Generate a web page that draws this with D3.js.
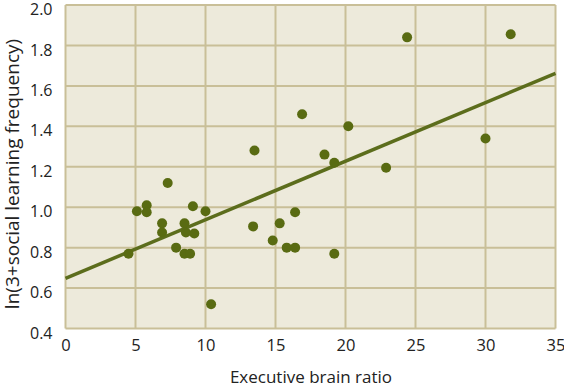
<!DOCTYPE html>
<html><head><meta charset="utf-8">
<script src="https://cdn.jsdelivr.net/npm/d3@7"></script>
<style>body{margin:0;background:#fff;} text{font-family:"Open Sans",sans-serif;fill:#222;}</style>
</head><body>
<svg id="c" width="564" height="388"></svg>
<script>
const brainRatio = [4.5,5.1,5.8,5.8,7.3,6.9,6.9,7.9,8.5,8.6,8.5,8.9,9.1,9.2,10.0,10.4,13.4,13.5,14.8,15.3,15.8,16.4,16.4,16.9,20.2,18.5,19.2,19.2,22.9,24.4,31.8,30.0];
const socialFreq = [0.77,0.98,1.01,0.975,1.12,0.92,0.875,0.80,0.92,0.875,0.77,0.77,1.005,0.87,0.98,0.52,0.905,1.28,0.835,0.92,0.80,0.80,0.975,1.46,1.40,1.26,1.22,0.77,1.195,1.84,1.855,1.34];
const fitLine = [[0,0.648],[35,1.662]];
const xTicks = [0,5,10,15,20,25,30,35];
const yTicks = [0.4,0.6,0.8,1.0,1.2,1.4,1.6,1.8,2.0];

const svg = d3.select("#c");
const L=65.5,R=555.5,T=5,B=328.5;
const x = d3.scaleLinear().domain([0,35]).range([L,R]);
const y = d3.scaleLinear().domain([0.4,2.0]).range([B,T]);

svg.append("rect").attr("x",L).attr("y",T).attr("width",R-L).attr("height",B-T).attr("fill","#edeadb");
const grid="#c9bf98";
svg.append("g").selectAll("line").data(xTicks).join("line")
  .attr("x1",d=>x(d)).attr("x2",d=>x(d)).attr("y1",T).attr("y2",B).attr("stroke",grid).attr("stroke-width",2);
svg.append("g").selectAll("line").data(yTicks).join("line")
  .attr("y1",d=>y(d)).attr("y2",d=>y(d)).attr("x1",L).attr("x2",R).attr("stroke",grid).attr("stroke-width",2);

const xAxis = svg.append("g").attr("transform",`translate(0,${B})`)
  .call(d3.axisBottom(x).tickValues(xTicks).tickSize(0).tickPadding(11).tickFormat(d3.format("d")));
xAxis.select(".domain").remove();
xAxis.selectAll("text").attr("font-size",16.5).style("font-family","'Open Sans',sans-serif").attr("fill","#222");
const yAxis = svg.append("g").attr("transform",`translate(${L},0)`)
  .call(d3.axisLeft(y).tickValues(yTicks).tickSize(0).tickPadding(13).tickFormat(d3.format(".1f")));
yAxis.select(".domain").remove();
yAxis.selectAll("text").attr("font-size",16).attr("dy","0.6em").style("font-family","'Open Sans',sans-serif").attr("fill","#222");

svg.append("path").datum(fitLine)
  .attr("d",d3.line().x(d=>x(d[0])).y(d=>y(d[1])))
  .attr("stroke","#5c6d1c").attr("stroke-width",3.5).attr("fill","none");

svg.append("g").selectAll("circle").data(brainRatio.map((v,i)=>[v,socialFreq[i]])).join("circle")
  .attr("cx",d=>x(d[0])).attr("cy",d=>y(d[1])).attr("r",5).attr("fill","#596b12");

svg.append("text").attr("x",311).attr("y",383).attr("text-anchor","middle").attr("font-size",17).text("Executive brain ratio");
svg.append("text").attr("transform",`translate(19,174) rotate(-90)`).attr("text-anchor","middle").attr("font-size",19).text("ln(3+social learning frequency)");
</script>
</body></html>
